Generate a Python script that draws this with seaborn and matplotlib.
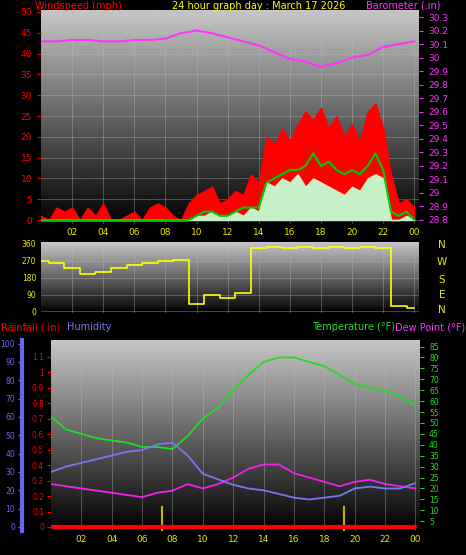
import numpy as np
import matplotlib
matplotlib.use('Agg')
import matplotlib.pyplot as plt
import seaborn as sns

sns.set_style('dark')
plt.rcParams['font.family'] = ['DejaVu Sans']

# half-hour wind data, hours 0..24
horas_vento = [i * 0.5 for i in range(49)]
rajada = [1, 0, 3, 2, 3, 0, 3, 1, 4, 0, 0, 1, 2, 0, 3, 4, 3, 1, 0, 4,
          6, 7, 8, 4, 5, 7, 6, 11, 9, 20, 18, 22, 19, 23, 26, 24, 27, 22, 25, 20,
          23, 19, 26, 28, 22, 11, 4, 5, 3]
velocidade = [0, 0, 0, 0, 0, 0, 0, 0, 0, 0, 0, 0, 0, 0, 0, 0, 0, 0, 0, 0,
              1, 1, 2, 1, 1, 2, 1, 3, 2, 9, 8, 10, 9, 11, 8, 10, 9, 8, 7, 6,
              8, 7, 10, 11, 10, 0, 0, 1, 0]
media = [0, 0, 0, 0, 0, 0, 0, 0, 0, 0, 0, 0, 0, 0, 0, 0, 0, 0, 0, 0,
         1, 2, 2, 1, 1, 2, 3, 3, 3, 9, 10, 11, 12, 12, 13, 16, 13, 14, 12, 11,
         12, 11, 13, 16, 12, 2, 1, 2, 0]

horas = list(range(25))
barometro = [30.12, 30.12, 30.13, 30.13, 30.12, 30.12, 30.13, 30.13, 30.14, 30.18, 30.2, 30.18,
             30.15, 30.12, 30.09, 30.04, 29.99, 29.97, 29.93, 29.96, 30.0, 30.02, 30.08, 30.1, 30.12]
direcao = [270, 260, 230, 200, 210, 230, 250, 260, 270, 275, 40, 90, 70, 100, 340, 345,
           340, 345, 340, 345, 340, 345, 340, 30, 20]
temperatura = [53, 47, 45, 43, 42, 41, 39, 39, 38, 44, 52, 57, 65, 72, 78, 80, 80, 78, 76,
               72, 68, 66, 65, 62, 58]
umidade = [30, 33, 35, 37, 39, 41, 42, 45, 46, 39, 29, 26, 23, 21, 20, 18, 16, 15, 16, 17,
           21, 22, 21, 21, 24]
orvalho = [22, 21, 20, 19, 18, 17, 16, 18, 19, 22, 20, 22, 25, 29, 31, 31, 27, 25, 23, 21,
           23, 24, 22, 21, 20]
chuva = [0] * 25
marcas = [7.3, 19.3]
rotulos_x = ['02', '04', '06', '08', '10', '12', '14', '16', '18', '20', '22', '00']

W, H = 466, 555
fig = plt.figure(figsize=(W / 100, H / 100), dpi=100, facecolor='black')


def eixo(x0, y0, x1, y1):
    return fig.add_axes([x0 / W, 1 - y1 / H, (x1 - x0) / W, (y1 - y0) / H])


def fundo(ax):
    grad = np.linspace(0.78, 0.0, 256).reshape(-1, 1)
    ax.imshow(grad, extent=[0, 1, 0, 1], transform=ax.transAxes, cmap='gray',
              vmin=0, vmax=1, aspect='auto', zorder=0)
    ax.grid(True, color='#bbbbbb', lw=0.5, alpha=0.5)
    ax.set_xlim(0, 24.3)
    ax.set_xticks(range(2, 25, 2))
    ax.set_xticklabels(rotulos_x, color='#e8e800', fontsize=6.5)
    ax.tick_params(axis='x', length=0, pad=3)
    for s in ax.spines.values():
        s.set_visible(False)


# top panel: wind + barometer
ax1 = eixo(41, 10, 419, 224)
fundo(ax1)
ax1.fill_between(horas_vento, rajada, color='#ff0000', zorder=2)
ax1.fill_between(horas_vento, velocidade, color='#c8f0c8', zorder=3)
sns.lineplot(x=horas_vento, y=media, ax=ax1, color='#00cc00', lw=1.5, zorder=4)
ax1.set_ylim(-0.96, 50.48)
ax1.set_yticks(range(0, 51, 5))
ax1.tick_params(axis='y', colors='#ff0000', labelsize=6.5, length=3)
ax1b = ax1.twinx()
sns.lineplot(x=horas, y=barometro, ax=ax1b, color='#ff33ff', lw=1.5)
ax1b.set_ylim(28.77, 30.352)
ax1b.set_yticks(np.round(np.arange(28.8, 30.31, 0.1), 1))
ax1b.set_yticklabels([f'{v:g}' for v in np.arange(28.8, 30.31, 0.1).round(1)])
ax1b.tick_params(axis='y', colors='#ff33ff', labelsize=6.5, length=3)
for s in ax1b.spines.values():
    s.set_visible(False)

# middle panel: direction
ax2 = eixo(41, 242, 419, 313)
fundo(ax2)
ax2.set_xticklabels([])
sns.lineplot(x=horas, y=direcao, ax=ax2, color='#ffff00', lw=1.2, drawstyle='steps-mid')
ax2.set_ylim(-8, 370)
ax2.set_yticks([0, 90, 180, 270, 360])
ax2.tick_params(axis='y', colors='#e8e800', labelsize=5.5, length=0)
for letra, yy in zip('NWSEN', [245, 262, 280, 295, 310]):
    fig.text(442 / W, 1 - yy / H, letra, color='#e8e800', fontsize=7.5, ha='center', va='center')

# bottom panel: temp, dew, humidity, rain
ax3 = eixo(51, 340, 420, 531)
fundo(ax3)
ax3.set_ylim(0.5, 88)
ax3.set_yticks([])
sns.lineplot(x=horas, y=temperatura, ax=ax3, color='#22dd22', lw=1.3)
sns.lineplot(x=horas, y=orvalho, ax=ax3, color='#ee22ee', lw=1.3)
ax3.vlines(marcas, 0.5, 12, color='#c8b400', lw=1.5)
axt = ax3.twinx()
axt.set_ylim(0.5, 88)
axt.set_yticks(range(5, 86, 5))
axt.tick_params(axis='y', colors='#22dd22', labelsize=5.5, length=3)
axh = ax3.twinx()
sns.lineplot(x=horas, y=umidade, ax=axh, color='#7777ee', lw=1.3)
axh.set_ylim(-2.2, 102)
axh.yaxis.set_ticks_position('left')
axh.spines['left'].set_position(('outward', 21))
axh.spines['left'].set_color('#6666ee')
axh.spines['left'].set_linewidth(3)
axh.set_yticks(range(0, 101, 10))
axh.tick_params(axis='y', colors='#6666ee', labelsize=5.5, length=3, pad=2)
axr = ax3.twinx()
sns.lineplot(x=horas, y=chuva, ax=axr, color='#ff0000', lw=3)
axr.set_ylim(-0.026, 1.21)
axr.yaxis.set_ticks_position('left')
axr.set_yticks(np.round(np.arange(0, 1.11, 0.1), 1))
axr.set_yticklabels([f'{v:g}' for v in np.arange(0, 1.11, 0.1).round(1)])
axr.tick_params(axis='y', colors='#ff0000', labelsize=5.5, length=3, pad=2)
for a in (axt, axh, axr):
    a.set_xlim(0, 24.3)
    for n, s in a.spines.items():
        if not (a is axh and n == 'left'):
            s.set_visible(False)
    a.grid(False)

# titles
fig.text(35 / W, 1 - 6 / H, 'Windspeed (mph)', color='#ff0000', fontsize=7, va='center')
fig.text(172 / W, 1 - 6 / H, '24 hour graph day : March 17 2026', color='#ffff00', fontsize=7, va='center')
fig.text(440 / W, 1 - 6 / H, 'Barometer (.in)', color='#ff33ff', fontsize=7, va='center', ha='right')
fig.text(1 / W, 1 - 327 / H, 'Rainfall (.in)', color='#ff0000', fontsize=7, va='center')
fig.text(67 / W, 1 - 327 / H, 'Humidity', color='#7777ee', fontsize=7, va='center')
fig.text(312 / W, 1 - 327 / H, 'Temperature (°F)', color='#22dd22', fontsize=7, va='center')
fig.text(465 / W, 1 - 327 / H, 'Dew Point (°F)', color='#ff33ff', fontsize=7, va='center', ha='right')

fig.savefig('out.png', dpi=100, facecolor='black')
